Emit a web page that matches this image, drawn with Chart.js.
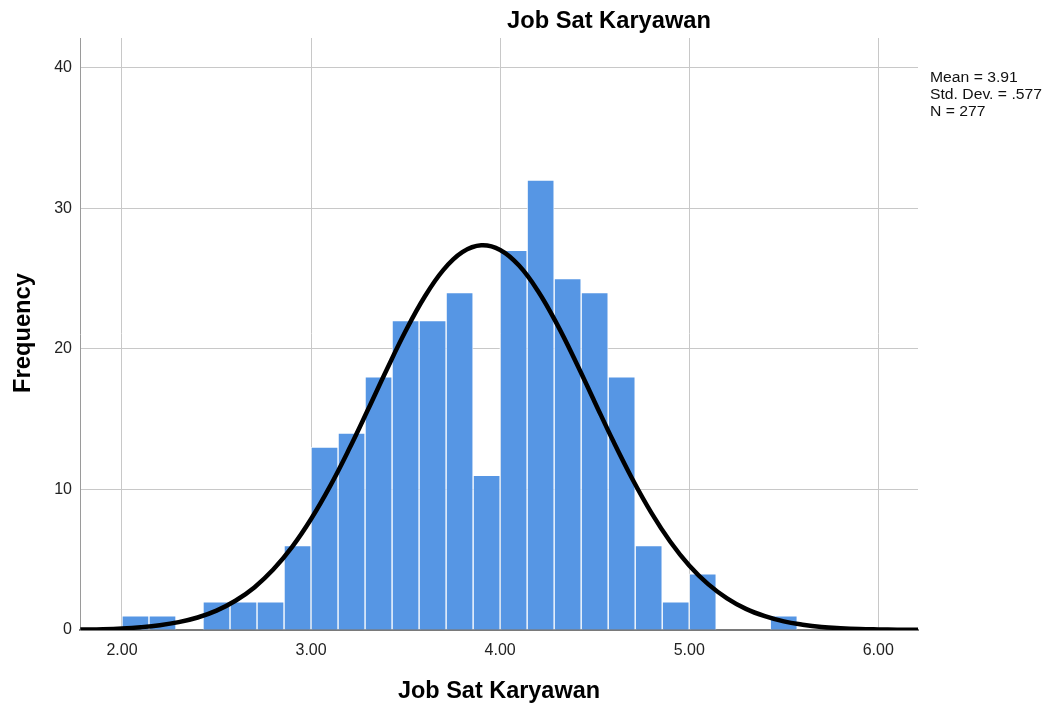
<!DOCTYPE html>
<html><head><meta charset="utf-8">
<script src="https://cdn.jsdelivr.net/npm/chart.js@4/dist/chart.umd.min.js"></script>
<style>html,body{margin:0;padding:0;background:#fff}#wrap{width:1050px;height:707px}</style>
</head><body><div id="wrap"><canvas id="c" width="1050" height="707"></canvas></div>
<script>
const chartTitle = "Job Sat Karyawan";
const xTitle = "Job Sat Karyawan";
const yTitle = "Frequency";
const statLines = ["Mean = 3.91", "Std. Dev. = .577", "N = 277"];

// histogram bins (centers, width 1/7) and counts
const binCenters = [2.0714, 2.2143, 2.3571, 2.5, 2.6429, 2.7857, 2.9286, 3.0714, 3.2143, 3.3571,
                    3.5, 3.6429, 3.7857, 3.9286, 4.0714, 4.2143, 4.3571, 4.5, 4.6429, 4.7857,
                    4.9286, 5.0714, 5.2143, 5.3571, 5.5];
const binCounts  = [1, 1, 0, 2, 2, 2, 6, 13, 14, 18,
                    22, 22, 24, 11, 27, 32, 25, 24, 18, 6,
                    2, 4, 0, 0, 1];

// normal curve
const curveX = [1.78, 1.9, 2.0, 2.1, 2.2, 2.3, 2.4, 2.5, 2.6, 2.7, 2.8, 2.9, 3.0, 3.1, 3.2, 3.3, 3.4, 3.5,
                3.6, 3.7, 3.8, 3.9, 4.0, 4.1, 4.2, 4.3, 4.4, 4.5, 4.6, 4.7, 4.8, 4.9, 5.0, 5.1, 5.2,
                5.3, 5.4, 5.5, 5.6, 5.7, 5.8, 5.9, 6.0, 6.1, 6.21];
const curveY = [0.03, 0.06, 0.11, 0.2, 0.34, 0.56, 0.89, 1.38, 2.08, 3.03, 4.3, 5.91, 7.89, 10.21, 12.83,
                15.64, 18.51, 21.26, 23.68, 25.61, 26.87, 27.36, 27.03, 25.92, 24.11, 21.77, 19.08,
                16.22, 13.38, 10.72, 8.33, 6.28, 4.59, 3.26, 2.25, 1.5, 0.98, 0.61, 0.38, 0.22, 0.13,
                0.07, 0.04, 0.02, 0.01];

const xTicks = [2, 3, 4, 5, 6];
const yTicks = [0, 10, 20, 30, 40];
const xRange = [1.778, 6.21];
const yRange = [0, 42.1];

const FONT = '"Liberation Sans", Arial, sans-serif';

function drawFit(ctx, text, x, y, font, targetW, align) {
  ctx.save();
  ctx.font = font;
  const w = ctx.measureText(text).width;
  const s = targetW / w;
  ctx.translate(x, y);
  ctx.scale(s, 1);
  ctx.textAlign = align;
  ctx.textBaseline = 'alphabetic';
  ctx.fillText(text, 0, 0);
  ctx.restore();
}

const textPlugin = {
  id: 'texts',
  afterDraw(chart) {
    const ctx = chart.ctx;
    ctx.save();
    ctx.fillStyle = '#000';
    drawFit(ctx, chartTitle, 609, 28, 'bold 24px ' + FONT, 204, 'center');
    drawFit(ctx, xTitle, 499, 698, 'bold 24px ' + FONT, 202, 'center');
    ctx.save();
    ctx.translate(30, 333);
    ctx.rotate(-Math.PI / 2);
    drawFit(ctx, yTitle, 0, 0, 'bold 24px ' + FONT, 120, 'center');
    ctx.restore();
    const base = [82, 99, 116];
    ctx.font = '14px ' + FONT;
    const s = 112 / ctx.measureText(statLines[1]).width;
    statLines.forEach((t, i) => {
      ctx.save();
      ctx.font = '14px ' + FONT;
      ctx.translate(930, base[i]);
      ctx.scale(s, 1);
      ctx.textAlign = 'left';
      ctx.fillStyle = '#111';
      ctx.fillText(t, 0, 0);
      ctx.restore();
    });
    ctx.restore();
  }
};

new Chart(document.getElementById('c'), {
  data: {
    datasets: [
      {
        type: 'line',
        data: curveX.map((x, i) => ({ x: x, y: curveY[i] })),
        borderColor: '#000',
        borderWidth: 4.5,
        pointRadius: 0,
        tension: 0.4,
        fill: false,
        order: 0
      },
      {
        type: 'bar',
        data: binCenters.map((x, i) => ({ x: x, y: binCounts[i] })),
        backgroundColor: 'rgb(86,150,228)',
        borderColor: 'rgba(255,255,255,0.75)',
        borderWidth: 1,
        borderSkipped: 'bottom',
        barPercentage: 1.0,
        categoryPercentage: 1.0,
        order: 1
      }
    ]
  },
  options: {
    responsive: false,
    animation: false,
    layout: { padding: { top: 38, right: 132, left: 0, bottom: 0 } },
    plugins: { legend: { display: false }, tooltip: { enabled: false }, title: { display: false } },
    scales: {
      x: {
        type: 'linear',
        min: xRange[0], max: xRange[1],
        offset: false,
        afterBuildTicks: s => { s.ticks = xTicks.map(v => ({ value: v })); },
        afterFit: s => { s.height = 77; },
        ticks: {
          callback: v => Number(v).toFixed(2),
          font: { family: FONT, size: 16 },
          color: '#222',
          padding: 11,
          maxRotation: 0
        },
        grid: { color: '#c8c8c8', lineWidth: 1, drawTicks: false, offset: false },
        border: { display: true, color: '#7a7a7a', width: 2 }
      },
      y: {
        type: 'linear',
        min: yRange[0], max: yRange[1],
        afterBuildTicks: s => { s.ticks = yTicks.map(v => ({ value: v })); },
        afterFit: s => { s.width = 80; },
        ticks: {
          font: { family: FONT, size: 16 },
          color: '#222',
          padding: 8
        },
        grid: { color: '#c8c8c8', lineWidth: 1, drawTicks: false },
        border: { display: true, color: '#9a9a9a', width: 1 }
      }
    }
  },
  plugins: [textPlugin]
});
</script>
</body></html>
